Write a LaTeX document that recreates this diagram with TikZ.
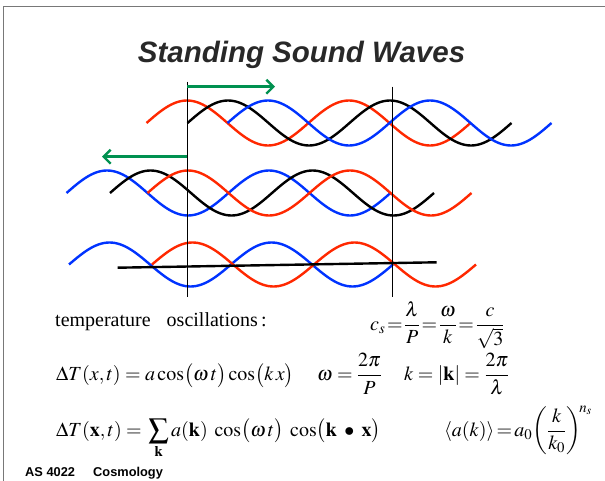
\documentclass[tikz,border=0pt]{standalone}
\usepackage{mathptmx}
\usepackage{fontspec}
\setmainfont{Liberation Serif}
\newfontfamily\arialfont{Liberation Sans}
\usetikzlibrary{arrows.meta}
\definecolor{wred}{RGB}{255,40,0}
\definecolor{wblue}{RGB}{0,51,255}
\definecolor{wgreen}{RGB}{0,145,80}
\definecolor{titlegray}{RGB}{40,40,40}
\definecolor{framegray}{RGB}{120,120,120}
\newcommand\sndwave[4]{\draw[wave,#1] plot[domain=0:720,samples=121,smooth] ({#2+\x*0.45},{#3-#4*sin(\x)});}
\begin{document}
\begin{tikzpicture}[x=1pt,y=-1pt,
  wave/.style={line width=2.4pt},
  vline/.style={line width=0.9pt, black},
  garrow/.style={wgreen, line width=2.4pt, -{Straight Barb[length=7pt,width=14pt,line width=2.4pt]}},
  eq/.style={anchor=base west, inner sep=0pt, font=\fontsize{20}{24}\selectfont},
  foot/.style={anchor=base west, inner sep=0pt, font=\arialfont\bfseries\fontsize{12.8}{14}\selectfont},
  title/.style={anchor=base, inner sep=0pt, text=titlegray, font=\arialfont\bfseries\itshape\fontsize{29.5}{32}\selectfont},
]
\useasboundingbox (0,0) rectangle (605,481);
\fill[white] (0,0) rectangle (605,481);
% frame
\draw[framegray, line width=1.4pt] (3.5,481) -- (3.5,6.7) -- (605,6.7);
% title
\node[title] (title) at (301.5,62.5) {Standing Sound Waves};
% row 1 waves
\sndwave{wred}{146.5}{123}{22.5}
\sndwave{black}{187.5}{123}{22.5}
\sndwave{wblue}{227.5}{123}{22.5}
% row 2 waves
\sndwave{wblue}{66.5}{193}{22.5}
\sndwave{black}{110}{193}{22.5}
\sndwave{wred}{147.5}{193}{22.5}
% row 3 waves
\sndwave{wblue}{69}{264.5}{22}
\sndwave{wred}{152}{264.5}{22}
\coordinate (ls) at (117.7,267.7);
\coordinate (le) at (436.7,262.3);
\draw[line width=2.4pt] (ls) -- (le);
% vertical lines
\coordinate (v1t) at (187.3,81.7);
\coordinate (v1b) at (187.3,296.5);
\coordinate (v2t) at (392.3,86.7);
\coordinate (v2b) at (392.3,296.5);
\draw[vline] (v1t) -- (v1b);
\draw[vline] (v2t) -- (v2b);
% arrows
\coordinate (a1s) at (187.3,86.7);
\coordinate (a1e) at (275,86.7);
\coordinate (a2s) at (187.3,156.7);
\coordinate (a2e) at (102,156.7);
\draw[garrow] (a1s) -- (a1e);
\draw[garrow] (a2s) -- (a2e);
% text
\node[eq] (temp) at (55,326) {temperature\hspace{0.8em}oscillations\,:};
\node[eq] (cs) at (370,330) {$\thickmuskip=1.5mu\displaystyle c_s = \frac{\lambda}{P} = \frac{\omega}{k} = \frac{c}{\sqrt{3}}$};
\node[eq] (dT1) at (56,380.5) {$\displaystyle \Delta T(x,t) = a\cos\bigl(\omega\, t\bigr)\cos\bigl(k\,x\bigr)$};
\node[eq] (om) at (317,380.5) {$\displaystyle \omega = \frac{2\pi}{P}$};
\node[eq] (kk) at (404,380.5) {$\displaystyle k = \left|\mathbf{k}\right| = \frac{2\pi}{\lambda}$};
\node[eq] (dT2) at (56,436) {$\displaystyle \Delta T(\mathbf{x},t) =\, \sum_{\mathbf{k}} a(\mathbf{k})\;\cos\bigl(\omega\, t\bigr)\;\cos\bigl(\mathbf{k}\;\bullet\;\mathbf{x}\bigr)$};
\node[eq] (ak) at (444,436) {$\thickmuskip=2mu\displaystyle \langle a(k)\rangle = a_0\!\left(\frac{k}{k_0}\right)^{\!n_s}$};
% footer
\node[foot] (f1) at (25,476.5) {AS 4022};
\node[foot] (f2) at (93,476.5) {Cosmology};
\end{tikzpicture}
\end{document}
